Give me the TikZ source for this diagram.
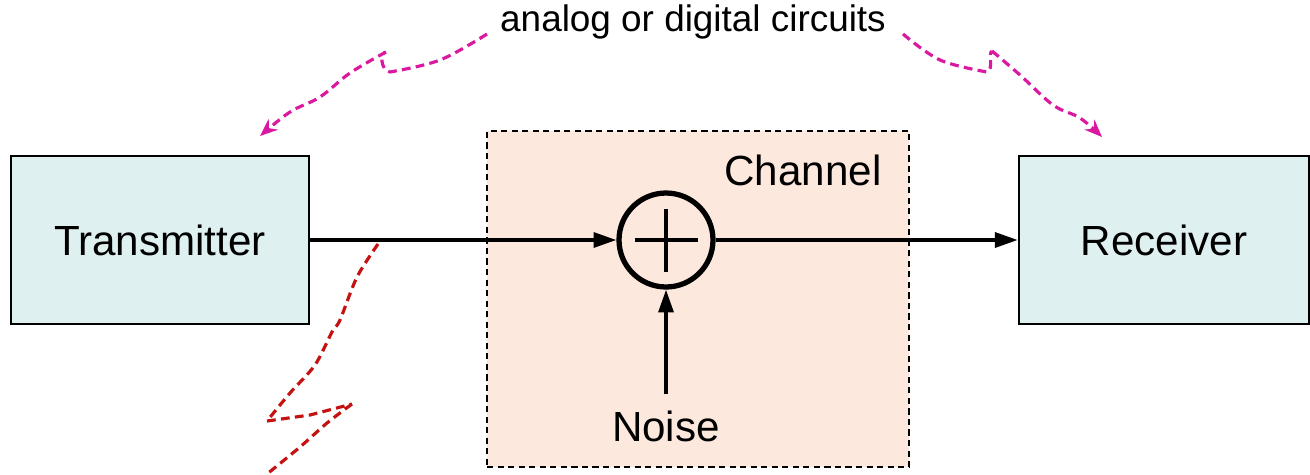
\documentclass[tikz,border=0pt]{standalone}
\usepackage{fontspec}
\setmainfont{Liberation Sans}
\usetikzlibrary{arrows.meta,positioning}
\definecolor{boxcyan}{RGB}{223,240,240}
\definecolor{chanpink}{RGB}{253,232,222}
\definecolor{ckmagenta}{RGB}{218,24,160}
\definecolor{zapred}{RGB}{196,18,18}

\begin{document}
\begin{tikzpicture}[x=0.02cm, y=-0.02cm,
  every node/.style={font=\fontsize{24}{28}\selectfont},
  unit/.style={rectangle, draw, line width=1.5pt, fill=boxcyan, minimum width=5.96cm, minimum height=3.36cm},
  chan/.style={rectangle, draw, dash pattern=on 3.5pt off 2.5pt, line width=0.8pt, fill=chanpink, minimum width=8.44cm, minimum height=6.72cm, inner sep=0pt},
  adder/.style={circle, draw, line width=3pt, minimum size=1.88cm, inner sep=0pt},
  sig/.style={line width=2pt, -{Triangle[length=13pt,width=8.5pt]}},
  hint/.style={ckmagenta, line width=1.8pt, dash pattern=on 5pt off 3pt, line join=round, -{Stealth[length=10pt,width=8pt]}},
  zap/.style={zapred, line width=1.8pt, dash pattern=on 5pt off 3pt, line join=round}
]
\useasboundingbox (0,0) rectangle (1310,474);
% Channel region behind the adder
\node[chan] (ch) at (698,299) {};
\node (chlbl) at (803,170) {Channel};
% Blocks
\node[unit] (tx) at (160,240) {Transmitter};
\node[unit, minimum width=5.8cm] (rx) at (1164,240) {Receiver};
\node[adder] (sum) at (666,240) {};
\draw[line width=1.9pt] (sum.center) ++(-31,0) -- ++(63,0);
\draw[line width=1.9pt] (sum.center) ++(0,-31) -- ++(0,63);
\node (noise) at (666,426) {Noise};
% Signal path
\draw[sig] (tx.east) -- (sum.west);
\draw[sig] (sum.east) -- (rx.west);
\draw[sig] (noise.north) ++(0,-10) -- (sum.south);
% Annotation
\node[font=\fontsize{21}{25}\selectfont] (circ) at (693,22) {analog or digital circuits};
\draw[hint] (circ.west) ++(-10,12) plot[smooth, tension=0.6] coordinates {(487,34) (440,60) (390,72)}
  .. controls (380,70) and (380,52) .. (386,52) plot[smooth, tension=0.6] coordinates {(386,52) (350,73) (320,97) (290,112) (260,136)};
\draw[hint] (circ.east) ++(14,12) plot[smooth, tension=0.6] coordinates {(903,34) (940,60) (987,72)}
  .. controls (994,70) and (988,52) .. (992,51) plot[smooth, tension=0.6] coordinates {(992,51) (1020,75) (1053,105) (1080,118) (1102,137)};
% Wireless link
\coordinate (tap) at (378,244);
\draw[zap] (tap) plot[smooth, tension=0.5] coordinates {(378,244) (357,277) (340,320) (332,332) (315,365) (290,393) (267,421)}
  -- (310,415) -- (352,404) plot[smooth, tension=0.5] coordinates {(352,404) (327,423) (300,447) (267,474)};
\end{tikzpicture}
\end{document}
